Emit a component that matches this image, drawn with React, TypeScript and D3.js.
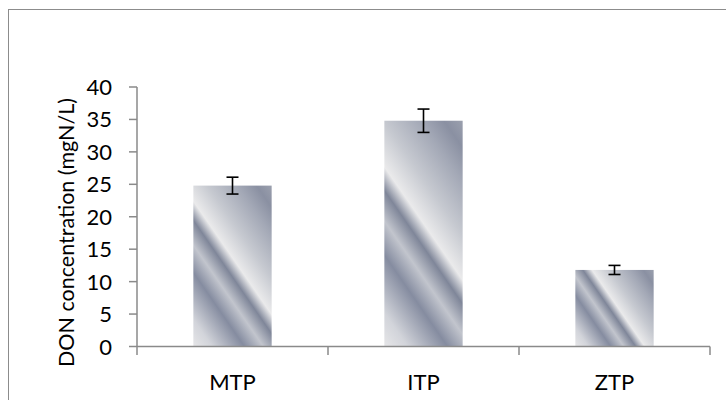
import React from "react";
import * as d3 from "d3";

const categories = ["MTP", "ITP", "ZTP"];
const values = [24.8, 34.8, 11.8];
const errors = [1.3, 1.8, 0.7];
const yTicks = [0, 5, 10, 15, 20, 25, 30, 35, 40];
const yTitle = "DON concentration (mgN/L)";

const W = 726;
const H = 400;
const left = 137;
const right = 710;
const top = 87;
const bottom = 346.5;

const gradStops: [number, string][] = [
  [0.0, "#e6e6e8"],
  [0.1, "#d2d4da"],
  [0.27, "#858ca0"],
  [0.37, "#c2c5cd"],
  [0.46, "#7f8699"],
  [0.53, "#eaeaeb"],
  [0.66, "#c6c9d0"],
  [0.82, "#a3a8b6"],
  [0.92, "#8a90a2"],
  [1.0, "#9ba0ae"],
];

export default function App() {
  const x = d3.scaleBand<string>().domain(categories).range([left, right]).padding(0);
  const y = d3.scaleLinear().domain([0, 40]).range([bottom, top]);
  const barW = x.bandwidth() * 0.41;
  const axisColor = "#8a8a8a";
  const font = "Lato, Carlito, Calibri, sans-serif";
  const slope = 1.45;
  const n = Math.hypot(slope, 1);
  const ux = slope / n;
  const uy = -1 / n;

  const bars = categories.map((c, i) => {
    const cx = (x(c) as number) + x.bandwidth() / 2;
    const bx = cx - barW / 2;
    const by = y(values[i]);
    const bh = y(0) - by;
    const L = ux * barW + -uy * bh;
    return { c, i, cx, bx, by, bh, x1: bx, y1: by + bh, x2: bx + ux * L, y2: by + bh + uy * L };
  });

  const boundaries = [...categories.map((c) => x(c) as number), right];

  return (
    <svg width={W} height={H} style={{ position: "absolute", left: 0, top: 0, background: "#fff" }}>
      <defs>
        {bars.map((b) => (
          <linearGradient
            key={b.c}
            id={`g${b.i}`}
            gradientUnits="userSpaceOnUse"
            x1={b.x1}
            y1={b.y1}
            x2={b.x2}
            y2={b.y2}
          >
            {gradStops.map(([o, col], k) => (
              <stop key={k} offset={o} stopColor={col} />
            ))}
          </linearGradient>
        ))}
      </defs>
      <rect x={8.5} y={9.5} width={800} height={500} fill="#fff" stroke="#8c8c8c" strokeWidth={1} />

      {bars.map((b) => (
        <rect key={b.c} x={b.bx} y={b.by} width={barW} height={b.bh} fill={`url(#g${b.i})`} />
      ))}

      {/* y axis */}
      <line x1={left} y1={top} x2={left} y2={bottom} stroke={axisColor} strokeWidth={1.5} />
      {yTicks.map((t) => (
        <g key={t}>
          <line x1={left - 8} x2={left} y1={y(t)} y2={y(t)} stroke={axisColor} strokeWidth={1.5} />
          <text
            x={112}
            y={y(t) + 8}
            textAnchor="end"
            fontFamily={font}
            fontSize={22}
            fill="#000"
          >
            {t}
          </text>
        </g>
      ))}

      {/* x axis */}
      <line x1={left} y1={y(0)} x2={right} y2={y(0)} stroke={axisColor} strokeWidth={1.5} />
      {boundaries.map((bx, k) => (
        <line key={k} x1={bx} x2={bx} y1={y(0)} y2={y(0) + 8.5} stroke={axisColor} strokeWidth={1.5} />
      ))}
      {categories.map((c) => (
        <text
          key={c}
          x={(x(c) as number) + x.bandwidth() / 2}
          y={389.5}
          textAnchor="middle"
          fontFamily={font}
          fontSize={22}
          fill="#000"
        >
          {c}
        </text>
      ))}

      {/* error bars */}
      {bars.map((b) => {
        const yt = y(values[b.i] + errors[b.i]);
        const yb = y(values[b.i] - errors[b.i]);
        return (
          <g key={b.c} stroke="#000" strokeWidth={1.6}>
            <line x1={b.cx} x2={b.cx} y1={yt} y2={yb} />
            <line x1={b.cx - 6} x2={b.cx + 6} y1={yt} y2={yt} />
            <line x1={b.cx - 6} x2={b.cx + 6} y1={yb} y2={yb} />
          </g>
        );
      })}

      <text
        transform={`translate(73.5, 232.5) rotate(-90)`}
        textAnchor="middle"
        fontFamily={font}
        fontSize={21.5}
        fill="#000"
      >
        {yTitle}
      </text>
    </svg>
  );
}
